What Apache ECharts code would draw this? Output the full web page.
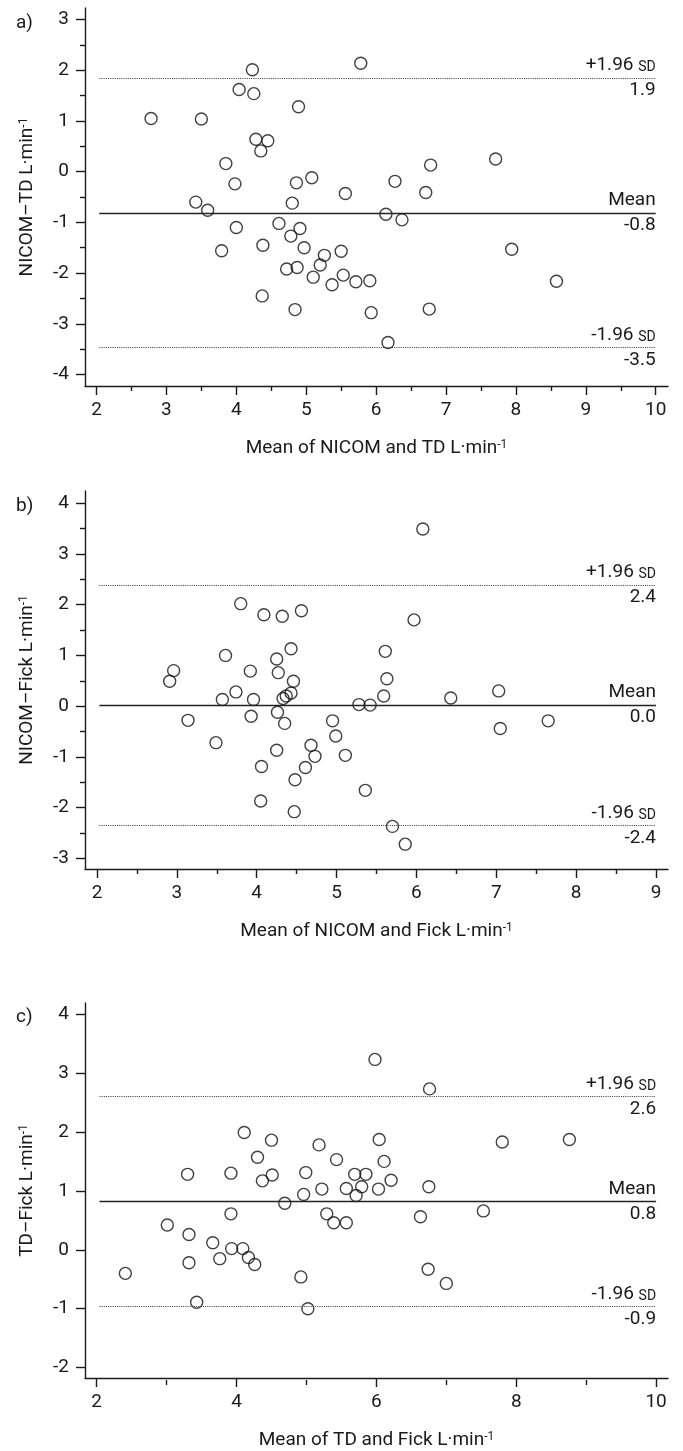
<!DOCTYPE html>
<html>
<head>
<meta charset="utf-8">
<script src="https://cdn.jsdelivr.net/npm/echarts@6/dist/echarts.min.js"></script>
<style>
html,body{margin:0;padding:0;background:#fff;}
#chart{width:683px;height:1451px;}
</style>
</head>
<body>
<div id="chart"></div>
<script>
// ---- Panel a: NICOM vs TD ----
const aX = [2.78,3.50,4.23,4.04,4.25,4.89,4.28,4.45,4.35,3.85,3.98,4.86,5.08,3.42,3.59,4.80,5.56,4.00,4.61,4.91,4.78,5.78,6.78,6.27,7.71,6.71,6.14,6.37,3.79,4.38,4.97,5.26,5.50,5.20,4.72,4.87,5.10,5.37,5.53,4.37,4.84,5.71,5.91,7.94,8.58,5.93,6.76,6.17];
const aY = [1.05,1.04,2.01,1.62,1.54,1.28,0.64,0.61,0.41,0.16,-0.24,-0.22,-0.12,-0.60,-0.76,-0.62,-0.43,-1.10,-1.02,-1.12,-1.27,2.14,0.13,-0.19,0.25,-0.41,-0.84,-0.95,-1.56,-1.45,-1.50,-1.65,-1.57,-1.84,-1.92,-1.89,-2.08,-2.23,-2.04,-2.45,-2.72,-2.17,-2.15,-1.53,-2.16,-2.78,-2.71,-3.37];
const aLimits = [1.85, -0.81, -3.47];           // +1.96 SD, mean, -1.96 SD
const aLimitLabels = ['1.9', '-0.8', '-3.5'];
const aXTicks = [2,3,4,5,6,7,8,9,10];
const aXMinor = [2.5,3.5,4.5,5.5,6.5,7.5,8.5,9.5];
const aYTicks = [-4,-3,-2,-1,0,1,2,3];
const aYMinor = [-3.5,-2.5,-1.5,-0.5,0.5,1.5,2.5];

// ---- Panel b: NICOM vs Fick ----
const bX = [3.80,4.09,4.32,4.56,3.61,4.43,4.25,2.96,3.92,4.27,2.91,4.46,6.08,5.97,5.61,5.63,3.57,3.74,3.96,4.33,4.37,4.43,3.14,3.93,4.26,4.35,3.49,4.25,4.68,4.73,4.95,4.99,5.11,4.06,4.61,4.48,4.05,4.47,5.59,5.28,5.42,6.43,7.03,7.05,7.65,5.36,5.70,5.86];
const bY = [2.02,1.80,1.77,1.88,1.00,1.13,0.93,0.70,0.69,0.66,0.49,0.49,3.49,1.70,1.08,0.54,0.13,0.28,0.13,0.15,0.20,0.26,-0.28,-0.20,-0.12,-0.34,-0.72,-0.87,-0.77,-0.99,-0.29,-0.59,-0.97,-1.19,-1.21,-1.45,-1.87,-2.08,0.20,0.03,0.02,0.16,0.30,-0.44,-0.29,-1.66,-2.37,-2.72];
const bLimits = [2.39, 0.02, -2.35];
const bLimitLabels = ['2.4', '0.0', '-2.4'];
const bXTicks = [2,3,4,5,6,7,8,9];
const bXMinor = [2.5,3.5,4.5,5.5,6.5,7.5,8.5];
const bYTicks = [-3,-2,-1,0,1,2,3,4];
const bYMinor = [-2.5,-1.5,-0.5,0.5,1.5,2.5,3.5];

// ---- Panel c: TD vs Fick ----
const cX = [4.11,4.50,4.30,5.18,5.43,5.98,6.76,6.04,7.80,8.76,6.11,3.30,3.92,4.37,4.51,4.99,5.22,4.96,4.69,5.57,5.29,5.39,5.57,3.01,3.92,3.32,3.66,3.93,4.09,3.76,4.17,4.26,3.32,2.41,4.92,3.43,5.02,5.69,5.85,6.21,5.79,6.03,5.71,6.75,7.53,6.63,6.74,7.00];
const cY = [1.99,1.86,1.57,1.78,1.53,3.23,2.73,1.87,1.83,1.87,1.50,1.28,1.30,1.17,1.27,1.31,1.03,0.94,0.79,1.04,0.61,0.46,0.46,0.42,0.61,0.26,0.12,0.02,0.02,-0.15,-0.13,-0.25,-0.22,-0.40,-0.46,-0.89,-1.00,1.28,1.28,1.18,1.07,1.03,0.92,1.07,0.66,0.56,-0.33,-0.57];
const cLimits = [2.60, 0.82, -0.96];
const cLimitLabels = ['2.6', '0.8', '-0.9'];
const cXTicks = [2,4,6,8,10];
const cXMinor = [3,5,7,9];
const cYTicks = [-2,-1,0,1,2,3,4];
const cYMinor = [];

const FONT = 'Roboto';
const INK = '#1a1a1a';
const FS = 19;

const panels = [
  {tag:'a)', tagTop:9, top:8, height:378, xr:[1.835,10.176], yr:[-4.227,3.229],
   xs:aX, ys:aY, lim:aLimits, limLab:aLimitLabels, lineX:[2.04,10],
   xt:aXTicks, xm:aXMinor, yt:aYTicks, ym:aYMinor,
   xName:'Mean of NICOM and TD L·min{sup|-1}', yName:'NICOM–TD L·min{sup|-1}'},
  {tag:'b)', tagTop:492, top:491, height:378, xr:[1.85,9.15], yr:[-3.21,4.24],
   xs:bX, ys:bY, lim:bLimits, limLab:bLimitLabels, lineX:[2.03,9],
   xt:bXTicks, xm:bXMinor, yt:bYTicks, ym:bYMinor,
   xName:'Mean of NICOM and Fick L·min{sup|-1}', yName:'NICOM–Fick L·min{sup|-1}'},
  {tag:'c)', tagTop:1003, top:1003, height:377, xr:[1.833,10.17], yr:[-2.175,4.187],
   xs:cX, ys:cY, lim:cLimits, limLab:cLimitLabels, lineX:[2.04,10],
   xt:cXTicks, xm:cXMinor, yt:cYTicks, ym:cYMinor,
   xName:'Mean of TD and Fick L·min{sup|-1}', yName:'TD–Fick L·min{sup|-1}'}
];

const richSup = {sup:{fontSize:12, fontFamily:FONT, color:INK, verticalAlign:'top', lineHeight:14}};
const richSD = {sd:{fontSize:14, fontFamily:FONT, color:INK, verticalAlign:'bottom'}};

const grid = [], xAxis = [], yAxis = [], series = [], title = [];

panels.forEach((p, i) => {
  const g = {left:85, width:583, top:p.top, height:p.height};
  grid.push(Object.assign({}, g), Object.assign({}, g));
  const main = 2*i, minor = 2*i + 1;
  xAxis.push({
    type:'value', gridIndex:main, min:p.xr[0], max:p.xr[1],
    splitLine:{show:false},
    axisLine:{show:true, onZero:false, lineStyle:{color:INK, width:1.4}},
    axisTick:{show:true, customValues:p.xt, length:9, lineStyle:{color:INK, width:1.4}},
    axisLabel:{show:true, customValues:p.xt, margin:15, fontSize:FS, fontFamily:FONT, color:INK},
    name:p.xName, nameLocation:'middle', nameGap:53,
    nameTextStyle:{fontSize:FS, fontFamily:FONT, color:INK, rich:richSup}
  });
  yAxis.push({
    type:'value', gridIndex:main, min:p.yr[0], max:p.yr[1],
    splitLine:{show:false},
    axisLine:{show:true, onZero:false, lineStyle:{color:INK, width:1.4}},
    axisTick:{show:true, customValues:p.yt, length:9, lineStyle:{color:INK, width:1.4}},
    axisLabel:{show:true, customValues:p.yt, margin:16, fontSize:FS, fontFamily:FONT, color:INK},
    name:p.yName, nameLocation:'middle', nameGap:48,
    nameTextStyle:{fontSize:FS, fontFamily:FONT, color:INK, rich:richSup}
  });
  xAxis.push({
    type:'value', gridIndex:minor, min:p.xr[0], max:p.xr[1],
    splitLine:{show:false}, axisLine:{show:false, onZero:false},
    axisTick:{show:p.xm.length>0, customValues:p.xm.length?p.xm:[p.xr[0]], length:5, lineStyle:{color:INK, width:1.4}},
    axisLabel:{show:false}
  });
  yAxis.push({
    type:'value', gridIndex:minor, min:p.yr[0], max:p.yr[1],
    splitLine:{show:false}, axisLine:{show:false, onZero:false},
    axisTick:{show:p.ym.length>0, customValues:p.ym.length?p.ym:[p.yr[0]], length:5, lineStyle:{color:INK, width:1.4}},
    axisLabel:{show:false}
  });

  const dotted = {type:[1,1.2], width:1, color:'#333'};
  const solid = {type:'solid', width:1.4, color:'#222'};
  const topTexts = ['+1.96 {sd|SD}', 'Mean', '-1.96 {sd|SD}'];
  const mlData = [];
  p.lim.forEach((v, k) => {
    const ls = k === 1 ? solid : dotted;
    mlData.push([
      {coord:[p.lineX[0], v], lineStyle:ls,
       label:{show:true, position:'insideEndTop', distance:[0,3], formatter:topTexts[k]}},
      {coord:[p.lineX[1], v]}
    ]);
    mlData.push([
      {coord:[p.lineX[0], v], lineStyle:{color:'rgba(0,0,0,0)', width:0.01, type:'solid'},
       label:{show:true, position:'insideEndBottom', distance:[0,3], formatter:p.limLab[k], color:INK}},
      {coord:[p.lineX[1], v]}
    ]);
  });

  series.push({
    type:'scatter', xAxisIndex:main, yAxisIndex:main,
    data:p.xs.map((x, j) => [x, p.ys[j]]),
    symbol:'circle', symbolSize:12,
    itemStyle:{color:'rgba(0,0,0,0)', borderColor:'#111', borderWidth:1.4},
    emphasis:{disabled:true},
    silent:true,
    markLine:{
      silent:true, symbol:['none','none'], animation:false,
      label:{fontSize:FS, fontFamily:FONT, color:INK, rich:richSD},
      data:mlData
    },
    z:3
  });

  title.push({text:p.tag, left:11, top:p.tagTop,
    textStyle:{fontSize:FS, fontWeight:'normal', fontFamily:FONT, color:INK}});
});

const chart = echarts.init(document.getElementById('chart'), null, {renderer:'canvas'});
chart.setOption({
  backgroundColor:'#ffffff',
  animation:false,
  textStyle:{fontFamily:FONT},
  title, grid, xAxis, yAxis, series
});
</script>
</body>
</html>
